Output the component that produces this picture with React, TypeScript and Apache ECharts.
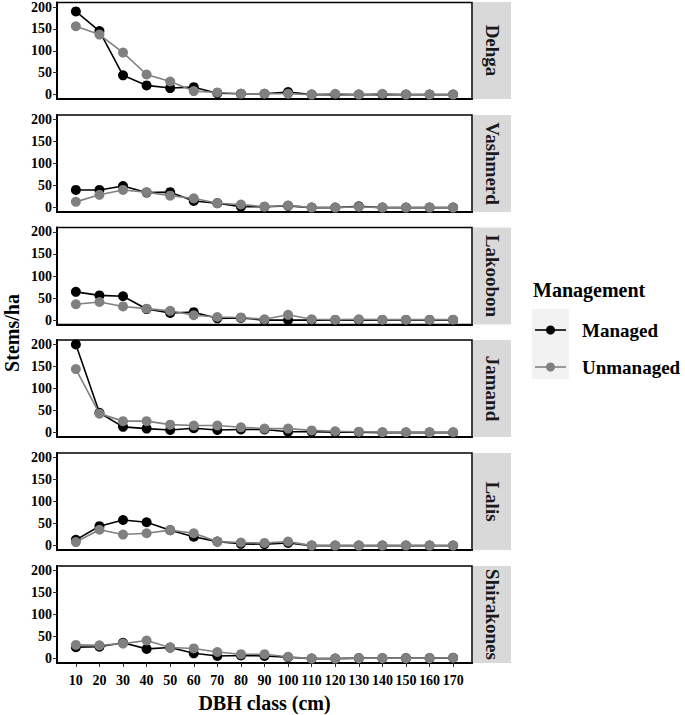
import React, { useEffect, useRef } from "react";
import * as echarts from "echarts";

const dbhClasses = [10, 20, 30, 40, 50, 60, 70, 80, 90, 100, 110, 120, 130, 140, 150, 160, 170];
const sites = ["Dehga", "Vashmerd", "Lakoobon", "Jamand", "Lalis", "Shirakones"];
const yTicks = [0, 50, 100, 150, 200];

const dehgaManaged = [190, 145, 44, 21, 15, 17, 3, 2, 2, 6, 0, 0, 0, 0, 0, 0, 0];
const dehgaUnmanaged = [156, 137, 96, 46, 30, 8, 5, 2, 2, 2, 0, 2, 0, 2, 0, 0, 0];
const vashmerdManaged = [40, 40, 49, 34, 35, 15, 10, 2, 2, 4, 0, 0, 3, 0, 0, 0, 0];
const vashmerdUnmanaged = [13, 29, 40, 35, 27, 21, 10, 7, 2, 5, 0, 0, 2, 0, 0, 0, 0];
const lakoobonManaged = [64, 56, 54, 25, 16, 18, 4, 5, 0, 0, 0, 0, 0, 0, 0, 0, 0];
const lakoobonUnmanaged = [36, 41, 31, 26, 21, 11, 7, 6, 2, 12, 2, 1, 2, 1, 1, 1, 1];
const jamandManaged = [200, 45, 13, 9, 6, 10, 6, 7, 7, 2, 2, 1, 1, 0, 0, 0, 0];
const jamandUnmanaged = [144, 43, 26, 26, 18, 16, 16, 12, 9, 9, 5, 3, 2, 1, 1, 1, 1];
const lalisManaged = [13, 44, 58, 53, 35, 20, 9, 4, 3, 6, 0, 0, 0, 0, 0, 0, 0];
const lalisUnmanaged = [8, 36, 25, 28, 35, 28, 9, 7, 6, 9, 0, 0, 0, 0, 0, 0, 0];
const shirakonesManaged = [26, 27, 36, 22, 25, 12, 6, 7, 6, 3, 0, 0, 1, 1, 1, 1, 2];
const shirakonesUnmanaged = [31, 30, 34, 41, 25, 23, 15, 10, 10, 4, 0, 0, 1, 1, 1, 1, 2];

const managedSets = [dehgaManaged, vashmerdManaged, lakoobonManaged, jamandManaged, lalisManaged, shirakonesManaged];
const unmanagedSets = [dehgaUnmanaged, vashmerdUnmanaged, lakoobonUnmanaged, jamandUnmanaged, lalisUnmanaged, shirakonesUnmanaged];

const FONT = "'Liberation Serif', 'Times New Roman', serif";
const MANAGED_COLOR = "#000000";
const UNMANAGED_COLOR = "#808080";

export default function App() {
  const ref = useRef<HTMLDivElement>(null);
  useEffect(() => {
    document.body.style.margin = "0";
    if (!ref.current) return;
    const chart = echarts.init(ref.current, undefined, { renderer: "svg" });

    const left = 57;
    const width = 415;
    const height = 97;
    const tops = [2, 115, 227.5, 340, 453, 566];

    const grids: any[] = [];
    const xAxes: any[] = [];
    const yAxes: any[] = [];
    const series: any[] = [];
    const graphics: any[] = [];

    sites.forEach((site, i) => {
      const last = i === sites.length - 1;
      grids.push({
        left,
        top: tops[i],
        width,
        height,
        show: true,
        borderColor: "#000",
        borderWidth: 1.5,
        backgroundColor: "#fff",
      });
      xAxes.push({
        type: "value",
        gridIndex: i,
        min: 2,
        max: 178,
        splitLine: { show: false },
        axisLine: { show: true, onZero: false, lineStyle: { color: "#000", width: 2 } },
        axisTick: {
          show: last,
          customValues: dbhClasses,
          length: 4,
          lineStyle: { color: "#333", width: 1 },
        },
        axisLabel: {
          show: last,
          customValues: dbhClasses,
          fontFamily: FONT,
          fontWeight: "bold",
          fontSize: 14,
          color: "#000",
          margin: 10,
        },
      });
      yAxes.push({
        type: "value",
        gridIndex: i,
        min: -10,
        max: 210,
        splitLine: { show: false },
        axisLine: { show: true, onZero: false, lineStyle: { color: "#000", width: 2 } },
        axisTick: {
          show: true,
          customValues: yTicks,
          length: 4,
          lineStyle: { color: "#333", width: 1 },
        },
        axisLabel: {
          customValues: yTicks,
          fontFamily: FONT,
          fontWeight: "bold",
          fontSize: 14,
          color: "#000",
          margin: 5,
        },
      });
      series.push({
        type: "line",
        name: "Managed",
        xAxisIndex: i,
        yAxisIndex: i,
        data: dbhClasses.map((d, k) => [d, managedSets[i][k]]),
        symbol: "circle",
        symbolSize: 10,
        lineStyle: { color: MANAGED_COLOR, width: 1.6 },
        itemStyle: { color: MANAGED_COLOR },
        z: 2,
      });
      series.push({
        type: "line",
        name: "Unmanaged",
        xAxisIndex: i,
        yAxisIndex: i,
        data: dbhClasses.map((d, k) => [d, unmanagedSets[i][k]]),
        symbol: "circle",
        symbolSize: 10,
        lineStyle: { color: UNMANAGED_COLOR, width: 1.6 },
        itemStyle: { color: UNMANAGED_COLOR },
        z: 3,
      });
      // facet strip
      graphics.push({
        type: "rect",
        shape: { x: left + width + 1, y: tops[i], width: 38, height },
        style: { fill: "#d9d9d9" },
        silent: true,
      });
      graphics.push({
        type: "text",
        x: left + width + 1 + 19,
        y: tops[i] + height / 2,
        rotation: -Math.PI / 2,
        style: {
          text: site,
          fontFamily: FONT,
          fontWeight: "bold",
          fontSize: 19,
          fill: "#1a1a1a",
          align: "center",
          verticalAlign: "middle",
        },
        silent: true,
      });
    });

    // axis titles
    graphics.push({
      type: "text",
      x: left + width / 2,
      y: 703,
      style: {
        text: "DBH class (cm)",
        fontFamily: FONT,
        fontWeight: "bold",
        fontSize: 20,
        fill: "#000",
        align: "center",
        verticalAlign: "middle",
      },
    });
    graphics.push({
      type: "text",
      x: 12,
      y: 333,
      rotation: Math.PI / 2,
      style: {
        text: "Stems/ha",
        fontFamily: FONT,
        fontWeight: "bold",
        fontSize: 20,
        fill: "#000",
        align: "center",
        verticalAlign: "middle",
      },
    });

    // legend
    graphics.push({
      type: "text",
      x: 533,
      y: 290,
      style: {
        text: "Management",
        fontFamily: FONT,
        fontWeight: "bold",
        fontSize: 20,
        fill: "#000",
        align: "left",
        verticalAlign: "middle",
      },
    });
    graphics.push({
      type: "rect",
      shape: { x: 532, y: 309, width: 37, height: 70 },
      style: { fill: "#f2f2f2" },
    });
    const legendItems = [
      { label: "Managed", color: MANAGED_COLOR, y: 330 },
      { label: "Unmanaged", color: UNMANAGED_COLOR, y: 367 },
    ];
    legendItems.forEach((it) => {
      graphics.push({
        type: "line",
        shape: { x1: 535, y1: it.y, x2: 566, y2: it.y },
        style: { stroke: it.color, lineWidth: 1.6 },
      });
      graphics.push({
        type: "circle",
        shape: { cx: 550.5, cy: it.y, r: 4.5 },
        style: { fill: it.color },
      });
      graphics.push({
        type: "text",
        x: 582,
        y: it.y,
        style: {
          text: it.label,
          fontFamily: FONT,
          fontWeight: "bold",
          fontSize: 19,
          fill: "#000",
          align: "left",
          verticalAlign: "middle",
        },
      });
    });

    chart.setOption({
      animation: false,
      backgroundColor: "#fff",
      grid: grids,
      xAxis: xAxes,
      yAxis: yAxes,
      series,
      graphic: { elements: graphics },
    });
    return () => chart.dispose();
  }, []);
  return <div ref={ref} style={{ width: 685, height: 715 }} />;
}
